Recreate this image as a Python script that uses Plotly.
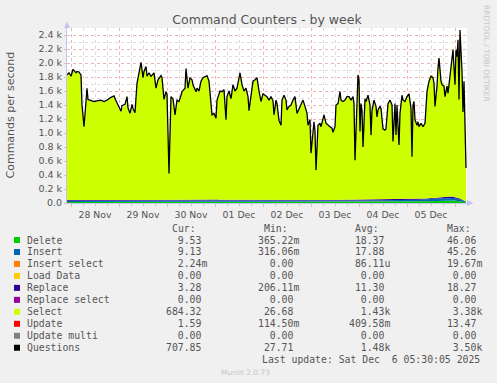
import plotly.graph_objects as go
import pandas as pd

BASE = pd.Timestamp("2025-11-28 00:00")

# hours since 28 Nov 00:00
hours = [-2, -1, 0, 1, 2.5, 3, 4, 5, 5.5, 6.5, 7.5, 8, 8.5, 10, 11.5, 13, 15, 16.5, 18, 20,
         21.5, 22.5, 23.5, 25, 25.5, 27, 28, 28.5, 29.5, 30.5, 31, 32, 33, 34, 35, 36, 36.5, 37.5, 38, 39,
         40, 41.5, 42.5, 43.5, 45, 45.5, 46.5, 47.5, 48, 49, 49.5, 50, 51, 52, 53, 54, 55, 55.5, 57, 57.5,
         58.5, 59.5, 60.5, 61, 62.5, 63, 64, 65, 66, 67, 68, 69, 70, 70.5, 71.5, 72.5, 73, 74.5, 75.5, 76.5,
         77.5, 78, 79, 80, 81, 82, 83, 84.5, 85.5, 86.5, 87.5, 88.5, 89, 90, 91, 92, 93, 94, 95, 96,
         97, 98, 99, 100, 101, 101.5, 102.5, 103, 104, 105, 105.5, 106.5, 107.5, 108, 109, 110, 111, 112, 113, 114,
         115, 116, 117, 118, 118.5, 119.5, 120, 121, 121.5, 122, 122.5, 123.5, 124.5, 125, 126, 126.5, 127.5, 128.5, 129.5, 130.5,
         131, 132, 132.5, 133.5, 134.5, 135, 136, 137, 138, 139, 140, 141, 141.5, 142, 143, 143.5, 144, 144.5, 145, 145.5,
         146, 147, 147.5, 148.5, 149.5, 150, 150.5, 151.5, 152.5, 153, 153.5, 154.5, 155, 156, 157, 157.5, 158.5, 159.5, 160.5, 161,
         162, 162.5, 163, 164, 164.5, 165.5, 166, 167, 168, 169, 170, 170.5, 171, 171.5, 172, 173, 173.5, 174, 175, 176,
         177, 177.5, 178, 179, 180, 181, 181.5, 182, 183, 183.5, 184, 185, 185.5, 186.5, 187, 188, 188.5, 189, 190, 191,
         191.5, 192, 192.5, 193, 193.5, 194, 194.5, 195.5, 196, 196.5, 197.5]

questions = [1830, 1860, 1810, 1910, 1860, 1880, 1870, 1830, 1400, 1090, 1450, 1640, 1480, 1460, 1450, 1460, 1470, 1450, 1470, 1510,
             1530, 1460, 1390, 1310, 1390, 1410, 1520, 1360, 1280, 1410, 1350, 1290, 1710, 1860, 2010, 1790, 1880, 1950, 1810, 1860,
             1810, 1860, 1640, 1760, 1820, 1790, 1480, 1590, 1560, 420, 1300, 1520, 1490, 1260, 1470, 1450, 1540, 1590, 1640, 1920,
             1640, 1790, 1760, 1690, 1590, 1640, 1600, 1740, 1790, 1810, 1820, 1740, 1420, 1260, 1280, 1210, 1470, 1600, 1590, 1620,
             1190, 1520, 1600, 1490, 1690, 1600, 1640, 1860, 1690, 1600, 1640, 1520, 1320, 1520, 1740, 1760, 1790, 1600, 1450, 1560,
             1540, 1520, 1470, 1520, 1460, 1260, 1470, 1420, 1180, 1110, 1470, 1540, 1470, 1330, 1380, 1400, 1470, 1520, 1280, 1350,
             1400, 1470, 1380, 1280, 1110, 1190, 710, 1110, 1160, 1020, 470, 1110, 1140, 1090, 1210, 1260, 1140, 1110, 1090, 1070,
             1010, 1090, 1400, 1420, 1590, 1470, 1450, 1470, 1520, 1520, 1470, 1520, 1420, 610, 1350, 1830, 1760, 1020, 1420, 1320,
             800, 1490, 1450, 1540, 1400, 970, 1320, 1470, 1380, 1230, 1330, 1380, 1350, 1060, 1040, 1060, 1420, 1470, 1400, 880,
             1420, 970, 1400, 830, 1280, 1540, 1470, 1450, 1520, 1560, 1350, 660, 1400, 1450, 1190, 1110, 1160, 1090, 1140, 1090,
             1140, 1420, 1590, 1740, 1810, 1790, 1710, 1380, 1670, 1930, 2070, 1740, 1690, 1670, 1520, 1670, 1570, 1690, 1970, 2190,
             1930, 1690, 2190, 2090, 2330, 1480, 2470, 1880, 1300, 1740, 500]

select = [1780, 1810, 1760, 1860, 1810, 1830, 1820, 1780, 1340, 1040, 1390, 1590, 1430, 1410, 1400, 1410, 1420, 1400, 1420, 1460,
          1480, 1400, 1330, 1250, 1320, 1350, 1460, 1300, 1220, 1350, 1290, 1230, 1650, 1810, 1950, 1740, 1830, 1900, 1760, 1810,
          1760, 1810, 1590, 1710, 1770, 1740, 1430, 1540, 1510, 380, 1250, 1470, 1440, 1210, 1420, 1400, 1490, 1540, 1590, 1860,
          1590, 1740, 1710, 1640, 1540, 1590, 1550, 1690, 1740, 1760, 1770, 1690, 1370, 1210, 1230, 1160, 1420, 1550, 1540, 1570,
          1140, 1470, 1550, 1440, 1640, 1550, 1590, 1810, 1640, 1550, 1590, 1470, 1270, 1470, 1690, 1710, 1740, 1550, 1400, 1510,
          1490, 1470, 1420, 1470, 1410, 1210, 1420, 1370, 1130, 1060, 1420, 1490, 1420, 1280, 1330, 1350, 1420, 1470, 1230, 1300,
          1350, 1420, 1330, 1230, 1060, 1140, 660, 1060, 1110, 970, 420, 1060, 1090, 1040, 1160, 1210, 1090, 1060, 1040, 1020,
          960, 1040, 1350, 1370, 1540, 1420, 1400, 1420, 1470, 1470, 1420, 1470, 1370, 560, 1300, 1780, 1710, 970, 1370, 1270,
          750, 1440, 1400, 1490, 1350, 920, 1270, 1420, 1330, 1180, 1280, 1330, 1300, 1010, 990, 1010, 1370, 1420, 1350, 830,
          1370, 920, 1350, 780, 1230, 1490, 1420, 1400, 1470, 1510, 1300, 610, 1350, 1400, 1140, 1060, 1110, 1040, 1090, 1040,
          1090, 1370, 1540, 1690, 1760, 1740, 1660, 1330, 1620, 1880, 2010, 1690, 1640, 1620, 1470, 1620, 1520, 1640, 1910, 2130,
          1870, 1630, 2130, 2030, 2270, 1420, 2410, 1820, 1240, 1680, 480]

small_hours = [-2, 10, 22, 34, 46, 58, 70, 82, 94, 106, 118, 130, 142, 154, 166, 178, 184, 190, 194, 197.5]
delete = [16, 15, 14, 16, 18, 17, 19, 18, 17, 16, 15, 17, 18, 19, 20, 26, 34, 40, 30, 9.5]
insert = [15, 14, 13, 15, 17, 16, 18, 17, 16, 15, 14, 16, 17, 18, 19, 25, 33, 38, 29, 9.1]
replace = [12, 11, 10, 11, 12, 11, 12, 11, 12, 11, 10, 11, 12, 12, 11, 13, 15, 16, 12, 3.3]
update = [0.4, 0.4, 0.3, 0.4, 0.5, 0.4, 0.4, 0.4, 0.4, 0.3, 0.4, 0.4, 0.5, 0.4, 0.4, 0.5, 0.6, 0.7, 0.5, 1.6]
zero_hours = [-2, 197.5]
zeros = [0, 0]

names = ["Delete", "Insert", "Insert select", "Load Data", "Replace", "Replace select",
         "Select", "Update", "Update multi", "Questions"]
colors = ["#00CC00", "#0066B3", "#FF8000", "#FFCC00", "#330099", "#990099",
          "#CCFF00", "#FF0000", "#808080", "#000000"]
cur = ["9.53", "9.13", "2.24m", "0.00", "3.28", "0.00", "684.32", "1.59", "0.00", "707.85"]
mins = ["365.22m", "316.06m", "0.00", "0.00", "206.11m", "0.00", "26.68", "114.50m", "0.00", "27.71"]
avgs = ["18.37", "17.88", "86.11u", "0.00", "11.30", "0.00", "1.43k", "409.58m", "0.00", "1.48k"]
maxs = ["46.06", "45.26", "19.67m", "0.00", "18.27", "0.00", "3.38k", "13.47", "0.00", "3.50k"]
ytick_vals = [0, 200, 400, 600, 800, 1000, 1200, 1400, 1600, 1800, 2000, 2200, 2400]
ytick_text = ["0.0", "0.2 k", "0.4 k", "0.6 k", "0.8 k", "1.0 k", "1.2 k", "1.4 k",
              "1.6 k", "1.8 k", "2.0 k", "2.2 k", "2.4 k"]

assert len(hours) == len(questions) == len(select)


def t(hs):
    return [BASE + pd.Timedelta(hours=h) for h in hs]


L, R, T, B = 67, 467, 28, 203
W, H = 497, 383


def px(x):
    return (x - L) / (R - L)


def py(y):
    return (B - y) / (B - T)


fig = go.Figure()
stack = [
    (small_hours, delete), (small_hours, insert), (zero_hours, zeros), (zero_hours, zeros),
    (small_hours, replace), (zero_hours, zeros), (hours, select), (small_hours, update),
    (zero_hours, zeros),
]
for i, (hs, vals) in enumerate(stack):
    fig.add_trace(go.Scatter(
        x=t(hs), y=vals, name=names[i], stackgroup="one", mode="lines",
        line=dict(width=0, color=colors[i]), fillcolor=colors[i],
        stackgaps="interpolate" if i == 0 else None, hoverinfo="skip",
    ))
fig.add_trace(go.Scatter(x=t(hours), y=questions, name="Questions", mode="lines",
                         line=dict(color="#000000", width=1.3)))

red_grid = "#EDB4B4"
grey_grid = "#DCDCDC"
axis_col = "#C4C4F4"
txt = "#555555"

fig.update_layout(
    width=W, height=H,
    margin=dict(l=L, r=W - R, t=T, b=H - B, pad=0),
    paper_bgcolor="#F0F0F0", plot_bgcolor="#FFFFFF",
    showlegend=False,
    font=dict(family="DejaVu Sans", size=9.5, color=txt),
    title=dict(text="Command Counters - by week", x=0.5, xanchor="center",
               xref="paper", y=1 - 20 / H, yanchor="middle", yref="container",
               font=dict(family="DejaVu Sans", size=12.5, color=txt)),
    xaxis=dict(
        type="date", range=[BASE + pd.Timedelta(hours=-2), BASE + pd.Timedelta(hours=198)],
        tickformat="%d %b", dtick=86400000, tick0=BASE, ticklabelmode="period",
        showgrid=True, gridcolor=red_grid, griddash="dot", gridwidth=1,
        ticks="outside", ticklen=3, tickcolor=red_grid,
        tickfont=dict(family="DejaVu Sans", size=9.3, color=txt),
        showline=True, linecolor=axis_col, linewidth=1, zeroline=False,
        minor=dict(dtick=6 * 3600000, tick0=BASE, showgrid=True, gridcolor=grey_grid,
                   griddash="dot", gridwidth=1, ticks="outside", ticklen=2, tickcolor="#C8C8C8"),
    ),
    yaxis=dict(
        range=[0, 2500], tickmode="array", tickvals=ytick_vals, ticktext=ytick_text,
        showgrid=True, gridcolor=red_grid, griddash="dot", gridwidth=1,
        ticks="outside", ticklen=2, tickcolor=red_grid,
        tickfont=dict(family="DejaVu Sans", size=9.5, color=txt),
        showline=True, linecolor=axis_col, linewidth=1, zeroline=False,
        minor=dict(tickmode="linear", dtick=100, tick0=0, showgrid=True, gridcolor=grey_grid,
                   griddash="dot", gridwidth=1),
    ),
)

ann = []
shapes = []


def add_text(x, y, text, size, color=txt, family="DejaVu Sans", xanchor="left", angle=0):
    ann.append(dict(x=px(x), y=py(y), xref="paper", yref="paper", text=text,
                    showarrow=False, xanchor=xanchor, yanchor="middle", textangle=angle,
                    borderpad=0, borderwidth=0,
                    font=dict(family=family, size=size, color=color)))


add_text(10, 115.5, "Commands per second", 11, xanchor="center", angle=-90)
add_text(487, 53, "RRDTOOL / TOBI OETIKER", 7.5, color="#C6C6C6", xanchor="center", angle=90)
add_text(245.5, 372, "Munin 2.0.73", 7.5, color="#C6C6C6", xanchor="center")

MONO = "DejaVu Sans Mono"
FS = 9.8
NB = "\u00a0"


def fmt(v):
    if v[-1].isalpha():
        num, suf = v[:-1], v[-1]
    else:
        num, suf = v, " "
    return (num.rjust(6) + suf).replace(" ", NB)


col_x = [166, 258.3, 349, 440.7]
cw = 5.93
for cx, hdr in zip(col_x, ["Cur:", "Min:", "Avg:", "Max:"]):
    add_text(cx + cw, 228.3, hdr, FS, family=MONO)

row0, step = 240.0, 11.97
for i, nm in enumerate(names):
    y = row0 + i * step
    shapes.append(dict(type="rect", xref="paper", yref="paper",
                       x0=px(14), x1=px(20), y0=py(y + 3), y1=py(y - 3),
                       fillcolor=colors[i], line=dict(width=0)))
    add_text(26.7, y, nm.replace(" ", NB), FS, family=MONO)
    for cx, vals in zip(col_x, [cur, mins, avgs, maxs]):
        add_text(cx, y, fmt(vals[i]), FS, family=MONO)

add_text(261.7, 359.7, "Last update: Sat Dec  6 05:30:05 2025".replace(" ", NB), FS, family=MONO)

# axis arrows
shapes.append(dict(type="path", xref="paper", yref="paper",
                   path=f"M {px(64)},{py(28)} L {px(70)},{py(28)} L {px(67)},{py(21.5)} Z",
                   fillcolor=axis_col, line=dict(width=0)))
shapes.append(dict(type="path", xref="paper", yref="paper",
                   path=f"M {px(467)},{py(200)} L {px(467)},{py(206)} L {px(473.5)},{py(203)} Z",
                   fillcolor=axis_col, line=dict(width=0)))

fig.update_layout(annotations=ann, shapes=shapes)
fig.write_html("out.html", config={"displayModeBar": False},
               post_script="document.body.style.margin='0px';")
